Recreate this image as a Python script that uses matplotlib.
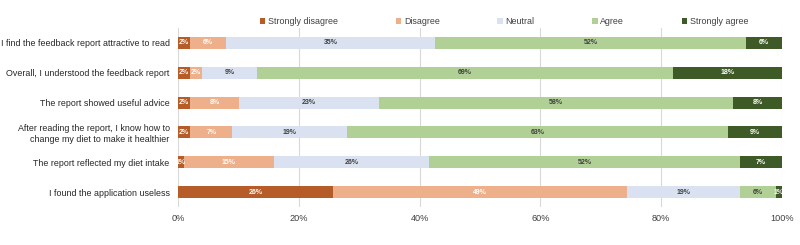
import numpy as np
import matplotlib
matplotlib.use("Agg")
import matplotlib.pyplot as plt

plt.rcParams["font.family"] = ["Liberation Sans", "DejaVu Sans"]

questions = [
    "I find the feedback report attractive to read",
    "Overall, I understood the feedback report",
    "The report showed useful advice",
    "After reading the report, I know how to\nchange my diet to make it healthier",
    "The report reflected my diet intake",
    "I found the application useless",
]
categories = ["Strongly disagree", "Disagree", "Neutral", "Agree", "Strongly agree"]
strongly_disagree = [2, 2, 2, 2, 1, 26]
disagree = [6, 2, 8, 7, 15, 49]
neutral = [35, 9, 23, 19, 26, 19]
agree = [52, 69, 58, 63, 52, 6]
strongly_agree = [6, 18, 8, 9, 7, 1]

colors = ["#B65C28", "#EDB08A", "#DAE2F1", "#B1D096", "#3E5A26"]
label_colors = ["white", "white", "#404040", "#404040", "white"]

series = np.array([strongly_disagree, disagree, neutral, agree, strongly_agree], dtype=float)
shares = series / series.sum(axis=0) * 100  # 100% stacked

fig = plt.figure(figsize=(8, 2.45), dpi=100)
ax = fig.add_axes([0.2225, 0.155, 0.755, 0.731])

y = np.arange(len(questions))
left = np.zeros(len(questions))
for i, cat in enumerate(categories):
    bars = ax.barh(y, shares[i], left=left, height=0.4, color=colors[i],
                   label=cat, zorder=3)
    for j, b in enumerate(bars):
        ax.text(left[j] + shares[i][j] / 2, y[j], f"{int(series[i][j])}%",
                ha="center", va="center", fontsize=5, fontweight="bold",
                color=label_colors[i], zorder=4)
    left += shares[i]

ax.set_xlim(0, 100)
ax.set_ylim(len(questions) - 0.5, -0.5)
ax.set_yticks(y)
ax.set_yticklabels(questions, fontsize=6.4, color="#262626")
ax.set_xticks(np.arange(0, 101, 20))
ax.set_xticklabels([f"{v}%" for v in range(0, 101, 20)], fontsize=6.6, color="#404040")
ax.tick_params(axis="x", length=0, pad=5)
ax.tick_params(axis="y", length=0, pad=6)
ax.grid(axis="x", color="#D9D9D9", linewidth=0.8, zorder=0)
for s in ax.spines.values():
    s.set_visible(False)

ax.legend(loc="lower center", bbox_to_anchor=(0.54, 0.985), ncol=5, frameon=False,
          fontsize=6.4, handlelength=0.6, handleheight=0.6, handletextpad=0.3,
          columnspacing=6.5, borderaxespad=0.1, labelcolor="#404040")

fig.savefig("out.png", dpi=100)
